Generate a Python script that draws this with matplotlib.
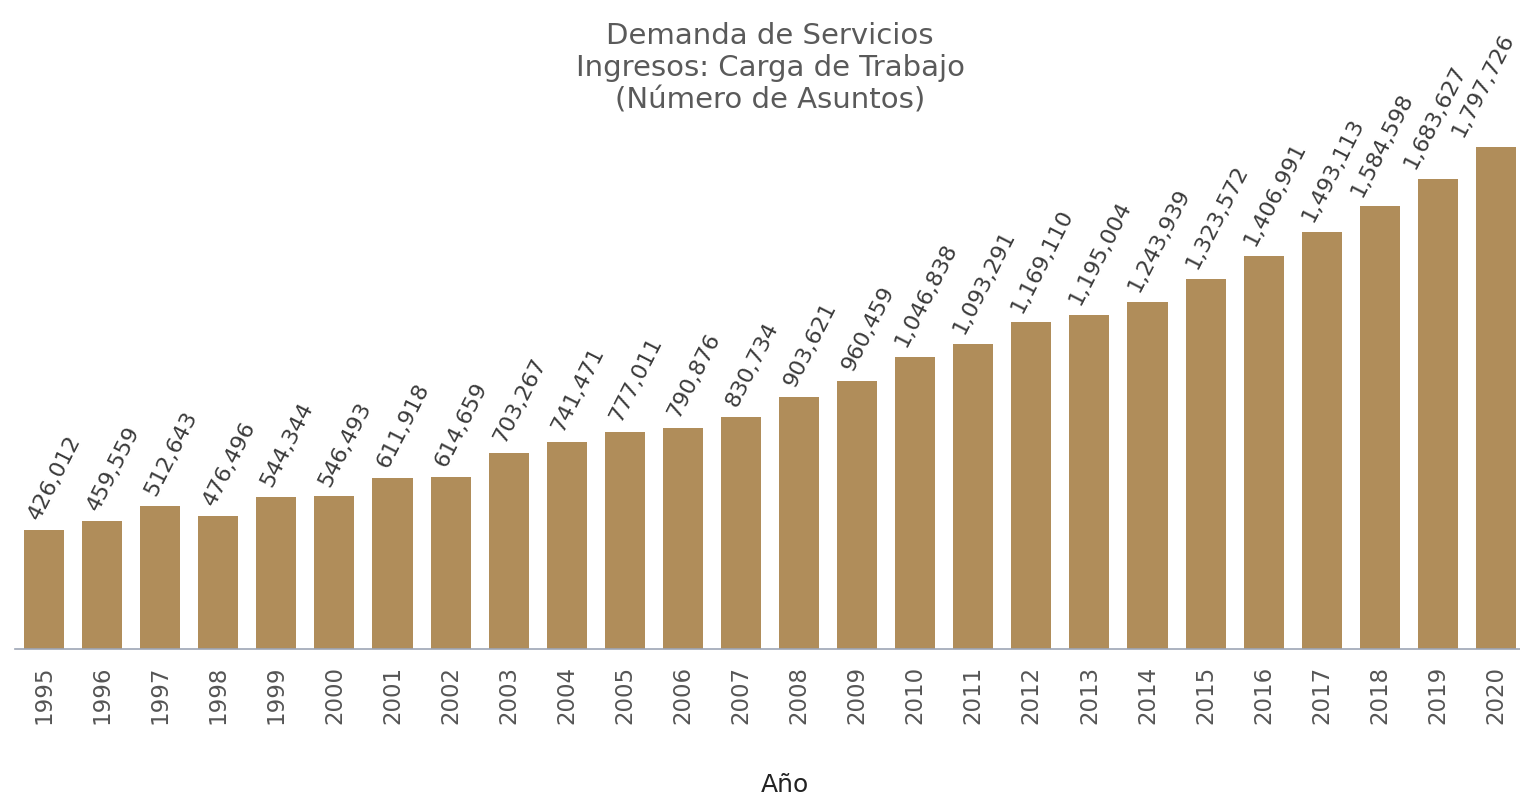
import numpy as np
import matplotlib
matplotlib.use("Agg")
import matplotlib.pyplot as plt

years = [str(y) for y in range(1995, 2021)]
asuntos = [426012, 459559, 512643, 476496, 544344, 546493, 611918, 614659,
           703267, 741471, 777011, 790876, 830734, 903621, 960459, 1046838,
           1093291, 1169110, 1195004, 1243939, 1323572, 1406991, 1493113,
           1584598, 1683627, 1797726]

plt.rcParams['font.family'] = ['DejaVu Sans']

fig = plt.figure(figsize=(15.2, 7.98), dpi=100)
ax = fig.add_axes([15 / 1520, 1 - 649 / 798, 1510 / 1520, 558.6 / 798])

x = np.arange(len(years))
ax.bar(x, asuntos, width=0.69, color='#B08D5A', zorder=2)

# horizontal nudge of each label (points); the last ones are squeezed left
nudge = [8] * (len(asuntos) - 3) + [2, -2, -9]
for xi, v, dx in zip(x, asuntos, nudge):
    ax.annotate(f"{v:,}", xy=(xi, v), xytext=(dx, 5), textcoords='offset points',
                rotation=63, ha='center', va='bottom',
                fontsize=16, color='#3a3a3a', annotation_clip=False)

ax.set_xlim(-0.5, len(years) - 0.5)
ax.set_ylim(0, 2.0e6)
ax.set_xticks(x)
ax.set_xticklabels(years, rotation=90, fontsize=16.5, color='#555555')
ax.tick_params(axis='x', length=0, pad=12)
ax.set_yticks([])
for s in ['top', 'right', 'left']:
    ax.spines[s].set_visible(False)
ax.spines['bottom'].set_color('#9DA5B5')
ax.spines['bottom'].set_linewidth(1.2)

fig.text(770 / 1520, 1 - 68 / 798,
         "Demanda de Servicios\nIngresos: Carga de Trabajo\n(Número de Asuntos)",
         ha='center', va='center', fontsize=21, color='#5a5a5a', linespacing=1.2)
fig.text(785 / 1520, 1 - 785 / 798, "Año", ha='center', va='center',
         fontsize=18, color='#222222')

fig.savefig('out.png', dpi=100)
